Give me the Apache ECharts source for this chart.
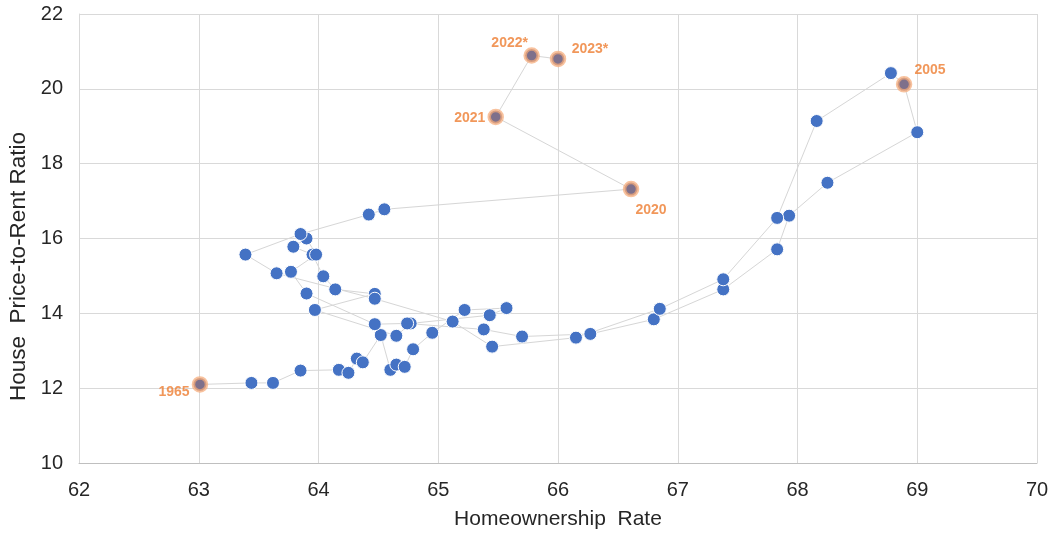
<!DOCTYPE html>
<html>
<head>
<meta charset="utf-8">
<script src="https://cdn.jsdelivr.net/npm/echarts@6/dist/echarts.min.js"></script>
<style>
html,body{margin:0;padding:0;background:#fff;overflow:hidden;}
#chart{width:1055px;height:533px;}
</style>
</head>
<body>
<div id="chart"></div>
<script>
// ---- data ----
const yearLabels = ['1965','1966','1967','1968','1969','1970','1971','1972','1973','1974',
  '1975','1976','1977','1978','1979','1980','1981','1982','1983','1984',
  '1985','1986','1987','1988','1989','1990','1991','1992','1993','1994',
  '1995','1996','1997','1998','1999','2000','2001','2002','2003','2004',
  '2005','2006','2007','2008','2009','2010','2011','2012','2013','2014',
  '2015','2016','2017','2018','2019','2020','2021','2022*','2023*'];
const homeownershipRate = [63.01,63.44,63.62,63.85,64.17,64.25,64.32,64.37,64.52,64.60,
  64.65,64.72,64.79,64.95,65.22,65.57,65.43,64.77,64.65,63.97,
  64.47,64.14,64.04,63.95,63.79,63.90,63.98,63.77,63.90,64.47,
  64.74,65.38,65.70,66.27,66.80,67.38,67.83,67.93,68.25,69.00,
  68.89,68.78,68.16,67.83,67.38,66.85,66.15,65.45,65.12,64.47,
  63.65,63.39,63.85,64.42,64.55,66.61,65.48,65.78,66.00];
const priceToRentRatio = [12.10,12.14,12.14,12.47,12.49,12.41,12.79,12.69,13.42,12.49,
  12.63,12.57,13.04,13.48,14.09,14.14,13.95,13.73,13.40,14.09,
  14.52,14.64,14.99,15.57,15.78,16.00,15.57,15.11,14.53,13.71,
  13.73,13.57,13.38,13.45,13.84,14.64,15.71,16.61,17.49,18.84,
  20.12,20.42,19.14,16.55,14.91,14.12,13.35,13.11,13.78,14.39,
  15.07,15.57,16.12,16.64,16.78,17.32,19.25,20.89,20.80];
const highlightedYears = ['1965','2005','2020','2021','2022*','2023*'];
const xTicks = {min: 62, max: 70, interval: 1};
const yTicks = {min: 10, max: 22, interval: 2};

// ---- styling (label placement) ----
const labelOffsets = {
  '1965': [-26, 8],
  '2005': [26, -14],
  '2020': [20, 21],
  '2021': [-26, 1],
  '2022*': [-22, -12],
  '2023*': [32, -10]
};

const points = yearLabels.map((y, i) => [homeownershipRate[i], priceToRentRatio[i], y]);
const highlightPoints = points.filter(p => highlightedYears.indexOf(p[2]) >= 0).map(p => ({
  value: p,
  label: {offset: labelOffsets[p[2]]}
}));

const font = "'Liberation Sans', Arial, sans-serif";
const chart = echarts.init(document.getElementById('chart'), null, {renderer: 'canvas'});
chart.setOption({
  animation: false,
  backgroundColor: '#ffffff',
  grid: {left: 79, right: 18, top: 14, bottom: 70, containLabel: false, outerBoundsMode: 'none'},
  xAxis: {
    type: 'value', min: xTicks.min, max: xTicks.max, interval: xTicks.interval,
    name: 'Homeownership  Rate', nameLocation: 'middle', nameGap: 46,
    nameTextStyle: {fontFamily: font, fontSize: 21, color: '#262626'},
    axisLine: {show: true, lineStyle: {color: '#bfbfbf', width: 1}},
    axisTick: {show: false},
    axisLabel: {fontFamily: font, fontSize: 20, color: '#262626', margin: 17},
    splitLine: {show: true, lineStyle: {color: '#d9d9d9', width: 1}}
  },
  yAxis: {
    type: 'value', min: yTicks.min, max: yTicks.max, interval: yTicks.interval,
    name: 'House  Price-to-Rent Ratio', nameLocation: 'middle', nameGap: 46,
    nameTextStyle: {fontFamily: font, fontSize: 22.5, color: '#262626', padding: [0, 56, 0, 0]},
    axisLine: {show: true, lineStyle: {color: '#d9d9d9', width: 1}},
    axisTick: {show: false},
    axisLabel: {fontFamily: font, fontSize: 20, color: '#262626', margin: 16},
    splitLine: {show: true, lineStyle: {color: '#d9d9d9', width: 1}}
  },
  series: [
    {
      type: 'line',
      data: points,
      symbol: 'circle',
      symbolSize: 13,
      showAllSymbol: true,
      itemStyle: {color: '#4472C4', borderColor: '#ffffff', borderWidth: 1},
      lineStyle: {color: '#d6d6d6', width: 1},
      z: 2
    },
    {
      type: 'scatter',
      data: highlightPoints,
      symbol: 'circle',
      symbolSize: 13,
      itemStyle: {color: '#8d6f7d', borderColor: 'rgba(245,170,120,0.9)', borderWidth: 3.5},
      label: {
        show: true, position: 'inside',
        formatter: p => p.value[2],
        fontFamily: font, fontSize: 14, fontWeight: 'bold', color: '#ED7D31'
      },
      z: 3
    }
  ]
});
</script>
</body>
</html>
